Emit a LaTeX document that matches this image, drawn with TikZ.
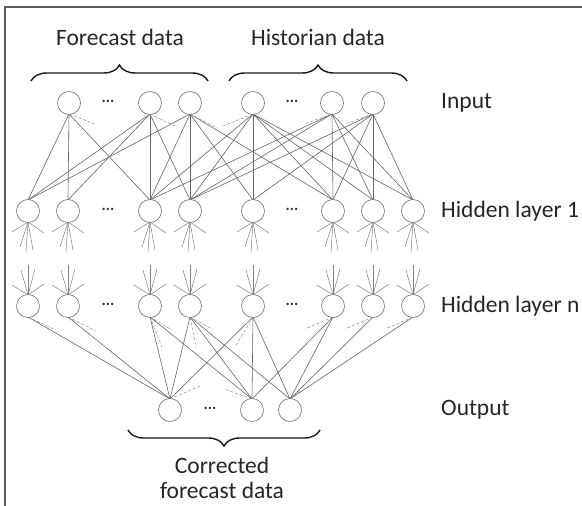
\documentclass[tikz,border=0pt]{standalone}
\usepackage{fontspec}
\setmainfont{Carlito}
\usetikzlibrary{decorations.pathreplacing}
\begin{document}
\begin{tikzpicture}[x=1pt,y=-1pt,
  neuron/.style={circle,draw=black!55,line width=0.65pt,minimum size=23pt,inner sep=0pt,fill=white},
  conn/.style={draw=black!60,line width=0.6pt},
  stub/.style={draw=black!45,line width=0.5pt,densely dashed},
  fan/.style={draw=black!50,line width=0.5pt},
  lbl/.style={font=\fontsize{23.5}{25}\selectfont,text=black!85,inner sep=0pt},
  dotsl/.style={font=\fontsize{16}{16}\selectfont\bfseries,text=black!80,inner sep=0pt},
  bracestyle/.style={draw=black!90,line width=1.4pt,decorate,decoration={brace,amplitude=16pt}}]
\useasboundingbox (0,0) rectangle (582,506);
\fill[white] (0,0) rectangle (582,506);
% frame
\draw[black!65,line width=1.5pt] (582,7) -- (5,7) -- (5,506);

% coordinates of nodes
\foreach \n/\x in {1/69,2/150,3/190,4/253,5/332,6/373} {\coordinate (pi\n) at (\x,103);}
\foreach \n/\x in {1/28,2/68,3/150,4/190,5/253,6/333,7/373,8/413} {
  \coordinate (ph\n) at (\x,211);
  \coordinate (pn\n) at (\x,306);}
\foreach \n/\x in {1/170,2/252,3/290} {\coordinate (po\n) at (\x,410);}

% input -> hidden 1
\foreach \i/\hs in {1/{1,2,3},2/{1,2,3,4},3/{1,3,4,5,6},4/{3,4,5,6,7,8},5/{3,4,6,7,8},6/{4,5,6,7,8}} {
  \foreach \h in \hs {\draw[conn] ([yshift=-11pt]pi\i) -- ([yshift=11pt]ph\h);}}
% hidden n -> output
\foreach \hh/\os in {1/{1},2/{1},3/{1,2},4/{1,2,3},5/{1,2,3},6/{2,3},7/{3},8/{3}} {
  \foreach \o in \os {\draw[conn] ([yshift=-11pt]pn\hh) -- ([yshift=11pt]po\o);}}

% stubs from input
\foreach \i/\dx/\dy in {1/28/11,2/25/12,3/27/14,4/-30/12,5/-28/10,6/-28/10} {
  \draw[stub] ([yshift=-11pt]pi\i) -- ++(\dx,\dy);}
% fans below hidden 1
\foreach \h in {1,...,8} {
  \foreach \dx/\dy in {-16/10,-8/25,-2/30,5/28,16/11} {
    \draw[fan] ([yshift=-11pt]ph\h) -- ++(\dx,\dy);}}
% fans above hidden n
\foreach \h in {1,...,8} {
  \foreach \dx/\dy in {-16/-10,-7/-25,0/-30,7/-26,16/-11} {
    \draw[fan] ([yshift=11pt]pn\h) -- ++(\dx,\dy);}}
% stubs below hidden n
\foreach \h/\dx/\dy in {1/28/13,2/28/14,3/22/13,3/12/30,4/22/12,4/6/30,5/-18/30,6/-28/12,7/-28/12,8/-28/12} {
  \draw[stub] ([yshift=-11pt]pn\h) -- ++(\dx,\dy);}
% stubs above output
\foreach \o/\dx/\dy in {1/30/-13,2/-28/-10,3/10/-8} {
  \draw[stub] ([yshift=11pt]po\o) -- ++(\dx,\dy);}

% neurons
\foreach \n in {1,...,6} {\node[neuron] (i\n) at (pi\n) {};}
\foreach \n in {1,...,8} {\node[neuron] (h\n) at (ph\n) {}; \node[neuron] (n\n) at (pn\n) {};}
\foreach \n in {1,2,3} {\node[neuron] (o\n) at (po\n) {};}

% dots
\node[dotsl] (d1) at (108,101) {...};
\node[dotsl] (d2) at (292,101) {...};
\node[dotsl] (d3) at (108,209) {...};
\node[dotsl] (d4) at (292,209) {...};
\node[dotsl] (d5) at (108,304) {...};
\node[dotsl] (d6) at (292,304) {...};
\node[dotsl] (d7) at (210,408) {...};

% braces
\draw[bracestyle] (31,81) -- (208,81);
\draw[bracestyle] (229,81) -- (407,81);
\draw[bracestyle] (320,430) -- (128,430);

% labels
\node[lbl] (tfc) at (120,37) {Forecast data};
\node[lbl] (thd) at (318,37) {Historian data};
\node[lbl,anchor=west] (tin) at (441,103) {Input};
\node[lbl,anchor=west] (th1) at (441,211) {Hidden layer 1};
\node[lbl,anchor=west] (thn) at (441,306) {Hidden layer n};
\node[lbl,anchor=west] (tout) at (441,410) {Output};
\node[lbl,align=center] (tcf) at (222,478) {Corrected\\forecast data};
\end{tikzpicture}
\end{document}
